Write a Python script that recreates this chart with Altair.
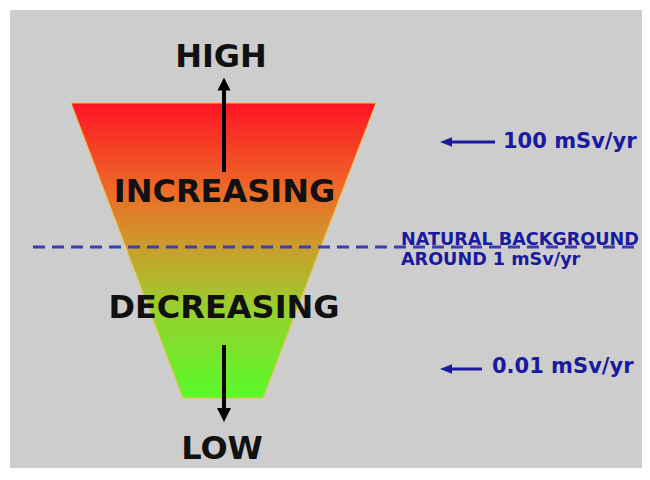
import altair as alt
import pandas as pd

# Diagram coordinate system: units measured from the top-left corner of the grey panel
PANEL_W = 632
PANEL_H = 458

# Funnel (inverted trapezoid): level from top, left and right edge positions
funnel_level = [93, 388]
funnel_left = [61, 173]
funnel_right = [366, 253]

gradient_offsets = [0.0, 0.3, 0.5, 0.7, 1.0]
gradient_colors = ["#ff1424", "#ec6c28", "#c8a02c", "#98d02c", "#58fa2a"]

# Black vertical arrows (up to HIGH, down to LOW)
bk_arrow_x = [214, 214]
bk_shaft_from = [162, 335]
bk_shaft_to = [80, 398]
bk_head_pos = [74, 405]
bk_head_shape = ["M0,-1L1,1L-1,1Z", "M0,1L1,-1L-1,-1Z"]
bk_head_size = [169, 196]

# Big black labels
big_labels = ["HIGH", "INCREASING", "DECREASING", "LOW"]
big_x = [211, 214.5, 214, 212]
big_y = [57, 192, 308, 449]

# Blue dose markers
dose_labels = ["100 mSv/yr", "0.01 mSv/yr"]
dose_level = [132, 359]
dose_shaft_start = [436, 436]
dose_shaft_end = [485, 472]
dose_label_x = [493, 482]
dose_label_y = [138, 363]

# Natural background dashed line and its label
bg_line_level = [237]
bg_line_start = [23]
bg_line_end = [625]
bg_lines = ["NATURAL BACKGROUND", "AROUND 1 mSv/yr"]
bg_text_x = [391, 391]
bg_text_y = [235, 255]

xs = alt.Scale(domain=[0, PANEL_W], nice=False, zero=False)
ys = alt.Scale(domain=[0, PANEL_H], nice=False, zero=False, reverse=True)

funnel_df = pd.DataFrame({"y": funnel_level, "x": funnel_left, "x2": funnel_right})
funnel = alt.Chart(funnel_df).mark_area(
    orient="horizontal",
    stroke="#f2c23c",
    strokeWidth=1,
    color=alt.Gradient(
        gradient="linear",
        stops=[alt.GradientStop(color=c, offset=o) for c, o in zip(gradient_colors, gradient_offsets)],
        x1=0, x2=0, y1=0, y2=1,
    ),
).encode(
    y=alt.Y("y:Q", scale=ys, axis=None),
    x=alt.X("x:Q", scale=xs, axis=None),
    x2="x2:Q",
)

bgline_df = pd.DataFrame({"x": bg_line_start, "x2": bg_line_end, "y": bg_line_level})
bgline = alt.Chart(bgline_df).mark_rule(
    color="#3c3cb4", strokeWidth=3, strokeDash=[12, 7], strokeCap="butt"
).encode(
    x=alt.X("x:Q", scale=xs, axis=None), x2="x2:Q", y=alt.Y("y:Q", scale=ys, axis=None)
)

shaft_df = pd.DataFrame({"x": bk_arrow_x, "y": bk_shaft_from, "y2": bk_shaft_to})
shafts = alt.Chart(shaft_df).mark_rule(color="#000000", strokeWidth=4, strokeCap="butt").encode(
    x=alt.X("x:Q", scale=xs, axis=None), y=alt.Y("y:Q", scale=ys, axis=None), y2="y2:Q"
)

head_df = pd.DataFrame({"x": bk_arrow_x, "y": bk_head_pos, "shape": bk_head_shape, "size": bk_head_size})
heads = alt.Chart(head_df).mark_point(filled=True, opacity=1, color="#000000", strokeWidth=0).encode(
    x=alt.X("x:Q", scale=xs, axis=None),
    y=alt.Y("y:Q", scale=ys, axis=None),
    shape=alt.Shape("shape:N", scale=None),
    size=alt.Size("size:Q", scale=None),
)

big_df = pd.DataFrame({"x": big_x, "y": big_y, "t": big_labels})
big_text = alt.Chart(big_df).mark_text(
    align="center", baseline="alphabetic", font="DejaVu Sans", fontWeight="bold",
    fontSize=32, color="#111111",
).encode(x=alt.X("x:Q", scale=xs, axis=None), y=alt.Y("y:Q", scale=ys, axis=None), text="t:N")

dose_shaft_df = pd.DataFrame({"x": dose_shaft_start, "x2": dose_shaft_end, "y": dose_level})
dose_shafts = alt.Chart(dose_shaft_df).mark_rule(color="#1a1a9e", strokeWidth=3, strokeCap="butt").encode(
    x=alt.X("x:Q", scale=xs, axis=None), x2="x2:Q", y=alt.Y("y:Q", scale=ys, axis=None)
)

dose_head_df = pd.DataFrame({"x": dose_shaft_start, "y": dose_level})
dose_heads = alt.Chart(dose_head_df).mark_point(
    filled=True, opacity=1, color="#1a1a9e", strokeWidth=0, shape="M-1,0L1,-0.8L1,0.8Z", size=144
).encode(x=alt.X("x:Q", scale=xs, axis=None), y=alt.Y("y:Q", scale=ys, axis=None))

dose_text_df = pd.DataFrame({"x": dose_label_x, "y": dose_label_y, "t": dose_labels})
dose_text = alt.Chart(dose_text_df).mark_text(
    align="left", baseline="alphabetic", font="DejaVu Sans", fontWeight="bold",
    fontSize=21, color="#1a1a9e",
).encode(x=alt.X("x:Q", scale=xs, axis=None), y=alt.Y("y:Q", scale=ys, axis=None), text="t:N")

bg_text_df = pd.DataFrame({"x": bg_text_x, "y": bg_text_y, "t": bg_lines})
bg_text = alt.Chart(bg_text_df).mark_text(
    align="left", baseline="alphabetic", font="DejaVu Sans", fontWeight="bold",
    fontSize=17.6, color="#1a1a9e",
).encode(x=alt.X("x:Q", scale=xs, axis=None), y=alt.Y("y:Q", scale=ys, axis=None), text="t:N")

chart = alt.layer(
    funnel, bgline, shafts, heads, big_text, dose_shafts, dose_heads, dose_text, bg_text
).properties(
    width=PANEL_W,
    height=PANEL_H,
    padding={"left": 2, "top": 2, "right": 0, "bottom": 0},
    autosize="none",
    background="white",
).configure_view(fill="#cdcdcd", strokeWidth=0)

chart.save("out.html", embed_options={"renderer": "svg", "actions": False})
